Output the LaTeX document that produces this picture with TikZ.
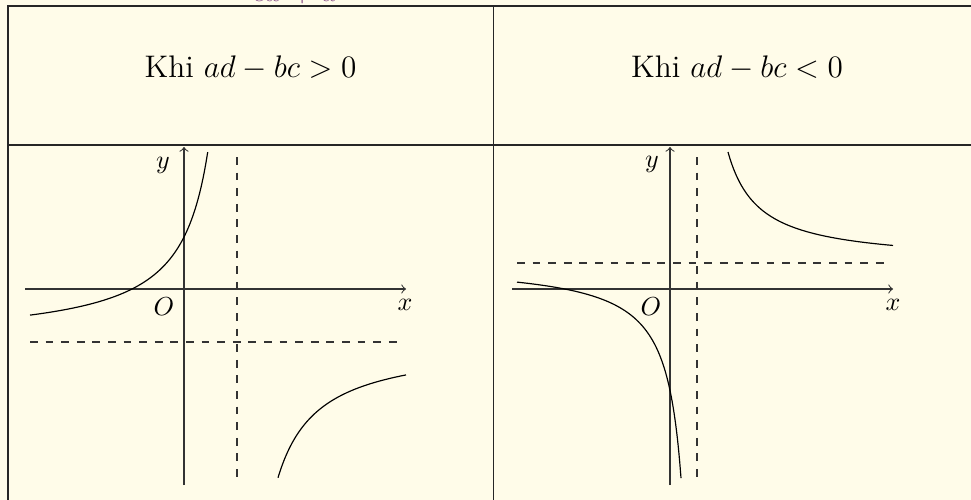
\documentclass[tikz,border=0pt]{standalone}
\usepackage{xcolor}
\definecolor{bgcream}{RGB}{255,252,233}
\definecolor{cutpurple}{RGB}{130,72,130}
\tikzset{
  tableline/.style={line width=0.6pt, black!85},
  axisline/.style={line width=0.4pt, black!80, ->},
  asym/.style={line width=0.4pt, black!80, dashed},
  curve/.style={line width=0.45pt, black},
  header/.style={font=\large, anchor=base, inner sep=0pt},
  axlabel/.style={inner sep=0pt}
}
\begin{document}
\begin{tikzpicture}[x=0.3846pt, y=-0.3846pt]
\useasboundingbox (0,0) rectangle (971,500);
\fill[bgcream] (0,0) rectangle (971,500);
\clip (0,0) rectangle (971,500);
% cut-off text at the top
\node[header, text=cutpurple] (cut) at (295,1.5) {$cx+d$};
% table
\draw[tableline] (8,506) -- (8,6) -- (980,6);
\draw[tableline] (493.5,6) -- (493.5,506);
\draw[tableline] (8,145) -- (980,145);
% headers
\node[header] (hleft) at (250.5,77) {Khi $ad-bc>0$};
\node[header] (hright) at (737,77) {Khi $ad-bc<0$};
% ---------- left graph ----------
\coordinate (Lxa) at (25,289);
\coordinate (Lxb) at (406,289);
\coordinate (Lya) at (184,485);
\coordinate (Lyb) at (184,147);
\draw[axisline] (Lxa) -- (Lxb);
\draw[axisline] (Lya) -- (Lyb);
\coordinate (Lva) at (237,157);
\coordinate (Lvb) at (237,481);
\coordinate (Lha) at (30,342);
\coordinate (Lhb) at (401,342);
\draw[asym] (Lva) -- (Lvb);
\draw[asym] (Lha) -- (Lhb);
\draw[curve] plot[domain=30:207.7, samples=120, smooth] (\x,{342+5565/(\x-237)});
\draw[curve] plot[domain=278:406, samples=120, smooth] (\x,{342+5565/(\x-237)});
\node[axlabel] (Ly) at (163,165) {$y$};
\node[axlabel] (LO) at (164,307) {$O$};
\node[axlabel] (Lx) at (405,305) {$x$};
% ---------- right graph ----------
\coordinate (Rxa) at (512,289);
\coordinate (Rxb) at (893,289);
\coordinate (Rya) at (670,485);
\coordinate (Ryb) at (670,147);
\draw[axisline] (Rxa) -- (Rxb);
\draw[axisline] (Rya) -- (Ryb);
\coordinate (Rva) at (697,157);
\coordinate (Rvb) at (697,481);
\coordinate (Rha) at (517,263);
\coordinate (Rhb) at (887,263);
\draw[asym] (Rva) -- (Rvb);
\draw[asym] (Rha) -- (Rhb);
\draw[curve] plot[domain=517:681, samples=120, smooth] (\x,{263-3441/(\x-697)});
\draw[curve] plot[domain=728:893, samples=120, smooth] (\x,{263-3441/(\x-697)});
\node[axlabel] (Ry) at (652,164) {$y$};
\node[axlabel] (RO) at (651,307) {$O$};
\node[axlabel] (Rx) at (893,305) {$x$};
\end{tikzpicture}
\end{document}
